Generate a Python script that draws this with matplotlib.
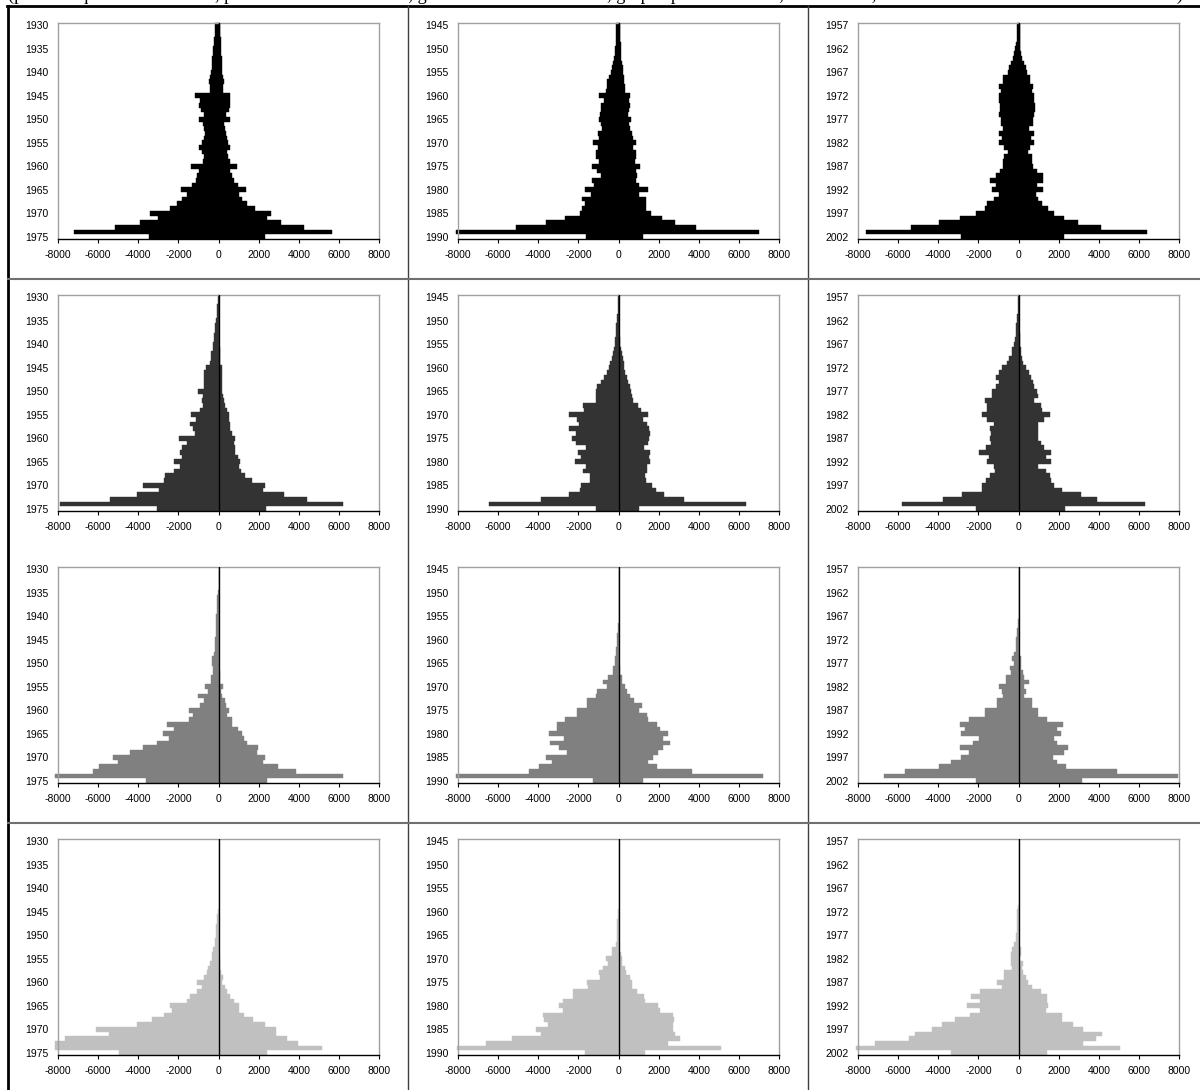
import matplotlib
matplotlib.use("Agg")
import matplotlib.pyplot as plt
from matplotlib.lines import Line2D

plt.rcParams["font.family"] = ["Liberation Sans", "DejaVu Sans"]
plt.rcParams["axes.unicode_minus"] = False

# first year of each column (46 yearly bars per panel)
col_starts = [1930, 1945, 1957]
row_colors = ["#000000", "#333333", "#808080", "#c0c0c0"]
x_ticks = [-8000, -6000, -4000, -2000, 0, 2000, 4000, 6000, 8000]

caption = ("(painel esquerdo 1930-1975, painel central 1945-1990, gráfico direito 1957-2002, "
           "grupos por linha: total, 0 a 14 anos, 15 a 29 anos e 30 anos ou mais de idade)")

# ---- row 1 (black) ----
a1_left = [-150, -150, -170, -200, -230, -260, -280, -300, -320, -340, -380, -400, -480, -420, -400,
           -1150, -900, -950, -880, -720, -950, -750, -720, -680, -700, -800, -950, -800, -720, -750,
           -1350, -950, -1080, -1100, -1330, -1850, -1580, -1830, -2070, -2400, -3400, -3000, -3900,
           -5150, -7200, -3450]
a1_right = [80, 80, 90, 100, 120, 130, 140, 150, 160, 170, 190, 200, 280, 230, 220, 580, 580, 580, 500,
            380, 550, 280, 330, 380, 420, 450, 550, 420, 480, 550, 910, 550, 660, 750, 950, 1380, 1000,
            1160, 1410, 1830, 2600, 2400, 3100, 4270, 5650, 2300]
a2_left = [-100, -100, -110, -120, -140, -150, -170, -200, -250, -300, -380, -450, -550, -580, -600,
           -950, -700, -850, -850, -900, -950, -850, -800, -1000, -950, -1250, -1000, -1100, -1100, -950,
           -1300, -1050, -850, -1300, -1200, -1650, -1350, -1800, -1650, -1800, -1900, -2650, -3600,
           -5100, -8100, -1600]
a2_right = [80, 80, 80, 90, 100, 100, 120, 140, 170, 200, 220, 250, 280, 300, 330, 550, 500, 550, 500,
            480, 620, 500, 550, 650, 700, 870, 700, 850, 850, 800, 1070, 850, 900, 850, 1000, 1450, 1000,
            1350, 1350, 1380, 1600, 2150, 2800, 3850, 7000, 1200]
a3_left = [-50, -50, -60, -80, -100, -150, -200, -280, -360, -450, -530, -750, -780, -950, -860, -980,
           -950, -920, -900, -980, -880, -850, -750, -980, -830, -950, -700, -530, -700, -750, -780,
           -900, -1110, -1410, -1110, -1310, -980, -1200, -1580, -1690, -2110, -2940, -3970, -5380,
           -7620, -2890]
a3_right = [50, 50, 60, 70, 80, 80, 130, 180, 250, 350, 430, 550, 550, 710, 650, 760, 780, 800, 800, 760,
            720, 700, 520, 760, 600, 760, 550, 460, 660, 660, 710, 910, 1210, 1210, 910, 1210, 880, 960,
            1160, 1460, 1760, 2260, 2950, 4120, 6410, 2260]

# ---- row 2 (dark grey) ----
b1_left = [-30, -40, -50, -60, -80, -100, -170, -170, -200, -220, -250, -280, -360, -360, -400, -610,
           -710, -710, -710, -710, -1000, -750, -830, -750, -910, -1380, -1110, -1410, -1250, -1160,
           -1990, -1580, -1830, -1910, -1830, -2240, -1910, -2240, -2660, -2740, -3740, -2990, -4070,
           -5400, -7920, -3070]
b1_right = [10, 10, 15, 15, 20, 20, 20, 25, 30, 30, 40, 50, 60, 70, 80, 170, 170, 160, 150, 150, 170,
            230, 280, 330, 410, 500, 530, 580, 580, 650, 830, 750, 800, 830, 950, 1050, 1000, 1100, 1330,
            1660, 2320, 2210, 3240, 4400, 6230, 2360]
b2_left = [-20, -20, -30, -40, -50, -80, -100, -100, -120, -150, -180, -220, -280, -330, -400, -450,
           -550, -700, -850, -1050, -1100, -1100, -1100, -1750, -1700, -2450, -2050, -1950, -2450, -2100,
           -2300, -2100, -1600, -2000, -1850, -2150, -1600, -1750, -1400, -1400, -1850, -1900, -2450,
           -3850, -6450, -1100]
b2_right = [0, 0, 0, 10, 10, 20, 20, 30, 40, 60, 80, 100, 150, 200, 250, 280, 320, 400, 450, 550, 600,
            650, 700, 950, 1100, 1450, 1200, 1400, 1500, 1550, 1500, 1450, 1250, 1550, 1500, 1550, 1400,
            1400, 1300, 1350, 1650, 1850, 2250, 3250, 6350, 1000]
b3_left = [-20, -20, -30, -40, -60, -80, -100, -130, -130, -150, -200, -300, -300, -460, -550, -800,
           -960, -1130, -960, -1130, -1330, -1330, -1660, -1590, -1590, -1820, -1590, -1210, -1430, -1380,
           -1430, -1380, -1630, -1960, -1490, -1590, -1210, -1160, -1430, -1630, -1820, -1820, -2820,
           -3750, -5800, -2120]
b3_right = [0, 0, 10, 10, 20, 20, 30, 40, 50, 60, 80, 100, 120, 150, 200, 360, 500, 610, 700, 780, 900,
            950, 750, 1110, 1190, 1560, 1280, 990, 990, 990, 990, 1110, 1280, 1640, 1360, 1610, 990, 1360,
            1560, 1640, 1770, 2190, 3100, 3900, 6300, 2300]

# ---- row 3 (grey) ----
c1_left = [0, 0, 0, 0, 0, -20, -80, -60, -60, -80, -100, -100, -120, -120, -130, -170, -170, -180, -200,
           -330, -330, -280, -250, -380, -380, -660, -500, -1000, -710, -910, -1490, -1280, -1490, -2570,
           -2240, -2770, -2490, -3070, -3770, -4400, -5280, -5030, -5940, -6260, -8130, -3620]
c1_right = [0, 0, 0, 0, 0, 0, 0, 0, 0, 0, 0, 0, 0, 0, 10, 20, 20, 20, 20, 30, 30, 40, 50, 60, 80, 215,
            120, 170, 330, 380, 500, 410, 660, 660, 950, 1160, 1250, 1410, 1990, 1910, 2320, 2240, 2990,
            3850, 6190, 2410]
c2_left = [0, 0, 0, 0, 0, 0, 0, 0, 0, 0, 0, 0, -30, -40, -50, -60, -80, -120, -120, -150, -170, -250,
           -250, -500, -750, -580, -1080, -1110, -1580, -1580, -2070, -2070, -2660, -3070, -3070, -3450,
           -2740, -3430, -2990, -2570, -3620, -3320, -3980, -4480, -8080, -1280]
c2_right = [0, 0, 0, 0, 0, 0, 0, 0, 0, 0, 0, 0, 0, 0, 0, 0, 10, 20, 20, 30, 30, 60, 80, 170, 170, 330,
            410, 550, 750, 1160, 1000, 1410, 1490, 1910, 2070, 2490, 2240, 2570, 2240, 1990, 1710, 1490,
            1910, 3650, 7220, 1200]
c3_left = [0, 0, 0, 0, 0, 0, 0, 0, 0, 0, 0, -30, -40, -50, -50, -100, -130, -130, -210, -300, -210, -430,
           -380, -630, -630, -960, -800, -760, -1080, -1080, -1660, -1660, -2450, -2900, -2670, -2870,
           -1960, -2290, -2900, -2450, -2870, -3370, -3980, -5640, -6680, -2120]
c3_right = [0, 0, 0, 0, 0, 0, 0, 0, 0, 0, 0, 0, 0, 10, 10, 20, 30, 30, 40, 110, 110, 110, 200, 280, 530,
            280, 360, 280, 650, 650, 950, 950, 1440, 2220, 1910, 2140, 1770, 1940, 2490, 2270, 1720, 1940,
            2350, 4920, 7960, 3180]

# ---- row 4 (light grey) ----
d1_left = [0, 0, 0, 0, 0, 0, 0, 0, 0, 0, 0, 0, 0, 0, 0, -30, -80, -80, -100, -130, -130, -170, -170,
           -250, -330, -330, -420, -500, -580, -710, -1080, -830, -1080, -1410, -1580, -2410, -2320,
           -2740, -3320, -4070, -6090, -5440, -7640, -8130, -8130, -4950]
d1_right = [0, 0, 0, 0, 0, 0, 0, 0, 0, 0, 0, 0, 0, 0, 0, 0, 0, 0, 0, 0, 0, 0, 0, 0, 30, 80, 60, 80, 120,
            200, 160, 330, 410, 580, 750, 1000, 1000, 1250, 1740, 2320, 2870, 2870, 3400, 3950, 5150, 2410]
d2_left = [0, 0, 0, 0, 0, 0, 0, 0, 0, 0, 0, 0, 0, 0, 0, -30, -40, -50, -50, -50, -60, -80, -100, -330,
           -330, -630, -500, -760, -960, -910, -1590, -1540, -2280, -2280, -2780, -2990, -2780, -3740,
           -3690, -3490, -4120, -3870, -5310, -6580, -8050, -1670]
d2_right = [0, 0, 0, 0, 0, 0, 0, 0, 0, 0, 0, 0, 0, 0, 0, 0, 0, 0, 0, 0, 0, 0, 0, 30, 100, 180, 180, 300,
            350, 560, 680, 680, 940, 1270, 1320, 1950, 2070, 2710, 2760, 2710, 2710, 2830, 3090, 2450, 5110,
            1320]
d3_left = [0, 0, 0, 0, 0, 0, 0, 0, 0, 0, 0, 0, 0, 0, -30, -50, -60, -80, -80, -80, -100, -120, -200,
           -330, -380, -380, -380, -330, -710, -710, -1090, -830, -1920, -2350, -1920, -2560, -1900, -2400,
           -3190, -3820, -4300, -5140, -5440, -7160, -8100, -3370]
d3_right = [0, 0, 0, 0, 0, 0, 0, 0, 0, 0, 0, 0, 0, 0, 0, 0, 0, 0, 0, 0, 0, 0, 30, 100, 100, 50, 230, 150,
            230, 380, 480, 680, 1140, 1440, 1440, 1490, 1380, 2150, 2150, 2710, 3210, 4170, 3850, 3210,
            5060, 1440]

panels = [
    [(a1_left, a1_right), (a2_left, a2_right), (a3_left, a3_right)],
    [(b1_left, b1_right), (b2_left, b2_right), (b3_left, b3_right)],
    [(c1_left, c1_right), (c2_left, c2_right), (c3_left, c3_right)],
    [(d1_left, d1_right), (d2_left, d2_right), (d3_left, d3_right)],
]

W, H = 1200, 1090
fig = plt.figure(figsize=(W / 100, H / 100), dpi=100)

ax_left_px = [58, 458, 858]
ax_top_px = [23, 295, 567, 839]
ax_w, ax_h = 321, 216

for r in range(4):
    for c in range(3):
        left_vals, right_vals = panels[r][c]
        col = row_colors[r]
        years = list(range(col_starts[c], col_starts[c] + len(left_vals)))
        ax = fig.add_axes([ax_left_px[c] / W, 1 - (ax_top_px[r] + ax_h) / H, ax_w / W, ax_h / H])
        ax.barh(years, left_vals, height=1.0, color=col, edgecolor=col, linewidth=0.3, clip_on=False)
        ax.barh(years, right_vals, height=1.0, color=col, edgecolor=col, linewidth=0.3, clip_on=False)
        ax.axvline(0, color="black", lw=1, zorder=3)
        ax.set_xlim(-8000, 8000)
        ax.set_ylim(years[-1] + 0.5, years[0] - 0.5)
        ax.set_yticks(years[::5])
        ax.set_yticklabels([str(y) for y in years[::5]])
        ax.set_xticks(x_ticks)
        ax.set_xticklabels([str(t) for t in x_ticks])
        ax.tick_params(axis="y", length=0, pad=7, labelsize=7.5)
        ax.tick_params(axis="x", length=3, pad=5, labelsize=7.5, direction="out")
        for s in ["left", "top", "right"]:
            ax.spines[s].set_color("#a0a0a0")
            ax.spines[s].set_linewidth(1)
        ax.spines["bottom"].set_color("black")
        ax.spines["bottom"].set_linewidth(1)

# table frame around the panels
top_y = 1 - 5.5 / H
fig.add_artist(Line2D([7 / W, 1], [top_y, top_y], transform=fig.transFigure, color="black", lw=2))
fig.add_artist(Line2D([7.5 / W, 7.5 / W], [0, top_y], transform=fig.transFigure, color="black", lw=2))
for xp in [408, 808]:
    fig.add_artist(Line2D([xp / W, xp / W], [0, top_y], transform=fig.transFigure, color="#404040", lw=1))
for yp in [279, 823]:
    fig.add_artist(Line2D([8 / W, 1], [1 - yp / H, 1 - yp / H], transform=fig.transFigure,
                          color="#707070", lw=1.5))

# caption line: in the source only its lower edge shows above the table
fig.text(8 / W, 1.0, caption, family=["Liberation Serif", "DejaVu Serif"], fontsize=13.2,
         va="baseline", ha="left")

fig.savefig("out.png", dpi=100)
